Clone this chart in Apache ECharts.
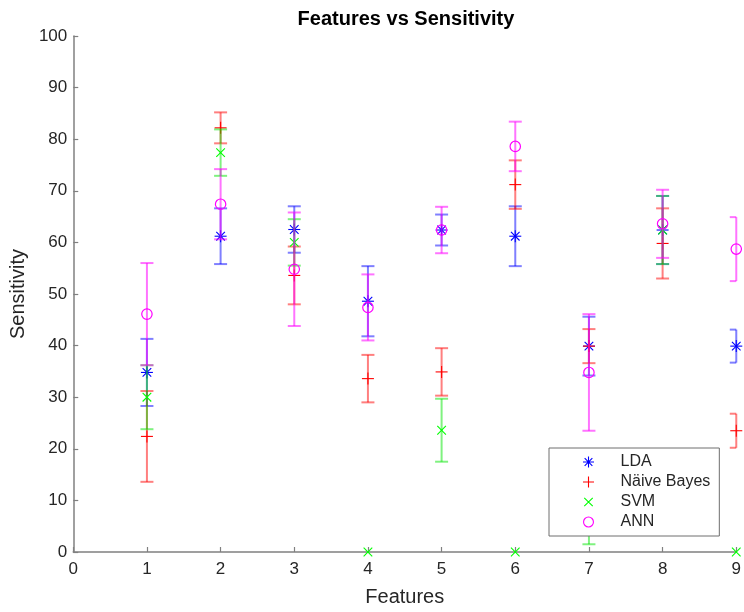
<!DOCTYPE html>
<html>
<head>
<meta charset="utf-8">
<script src="https://cdn.jsdelivr.net/npm/echarts@6/dist/echarts.min.js"></script>
<style>html,body{margin:0;padding:0;background:#fff}#c{width:744px;height:612px}</style>
</head>
<body>
<div id="c"></div>
<script>
var features = [1, 2, 3, 4, 5, 6, 7, 8, 9];
var xTickLabels = ['0','1','2','3','4','5','6','7','8','9'];
var yTickLabels = ['0','10','20','30','40','50','60','70','80','90','100'];

var ldaMean = [34.8, 61.2, 62.5, 48.6, 62.4, 61.2, 39.9, 62.4, 39.9];
var ldaErr  = [6.5, 5.4, 4.5, 6.8, 3.0, 5.8, 5.7, 6.6, 3.2];
var nbMean  = [22.4, 82.2, 53.6, 33.6, 34.9, 71.2, 39.9, 59.8, 23.5];
var nbErr   = [8.8, 3.0, 5.6, 4.6, 4.6, 4.7, 3.3, 6.8, 3.3];
var svmMean = [30.0, 77.4, 60.0, 0, 23.6, 0, 10.0, 62.4, 0];
var svmErr  = [6.2, 4.5, 4.5, 0, 6.1, 0, 8.5, 6.6, 0];
var annMean = [46.1, 67.4, 54.8, 47.4, 62.4, 78.6, 34.8, 63.6, 58.7];
var annErr  = [9.9, 6.8, 11.0, 6.4, 4.5, 4.8, 11.3, 6.6, 6.2];

var FONT = 'Liberation Sans, Arial, Helvetica, sans-serif';

function rows(mean, err) {
  return features.map(function (f, i) { return [f, mean[i], err[i]]; });
}

function markerShapes(kind, cx, cy, color) {
  var st = { stroke: color, lineWidth: 1.1, fill: null };
  function L(x1, y1, x2, y2) { return { type: 'line', shape: { x1: x1, y1: y1, x2: x2, y2: y2 }, style: st }; }
  var s = 6, d = 4.3;
  if (kind === 'plus') return [L(cx - s, cy, cx + s, cy), L(cx, cy - s, cx, cy + s)];
  if (kind === 'cross') return [L(cx - d, cy - d, cx + d, cy + d), L(cx - d, cy + d, cx + d, cy - d)];
  if (kind === 'star') return [L(cx - s, cy, cx + s, cy), L(cx, cy - s, cx, cy + s),
                               L(cx - d, cy - d, cx + d, cy + d), L(cx - d, cy + d, cx + d, cy - d)];
  return [{ type: 'circle', shape: { cx: cx, cy: cy, r: 5.2 }, style: { stroke: color, lineWidth: 1.2, fill: 'none' } }];
}

function makeRender(kind, color, barColor) {
  return function (params, api) {
    var x = api.value(0), m = api.value(1), e = api.value(2);
    var p = api.coord([x, m]);
    var cs = params.coordSys;
    var right = cs.x + cs.width;
    var children = [];
    if (e > 0) {
      var lo = api.coord([x, m - e]), hi = api.coord([x, m + e]);
      var hw = 6.5;
      var capR = Math.min(p[0] + hw, right);
      var bs = { stroke: barColor, lineWidth: 2 };
      children.push({ type: 'line', shape: { x1: p[0], y1: lo[1], x2: p[0], y2: hi[1] }, style: bs });
      children.push({ type: 'line', shape: { x1: p[0] - hw, y1: lo[1], x2: capR, y2: lo[1] }, style: bs });
      children.push({ type: 'line', shape: { x1: p[0] - hw, y1: hi[1], x2: capR, y2: hi[1] }, style: bs });
    }
    children = children.concat(markerShapes(kind, p[0], p[1], color));
    return { type: 'group', children: children };
  };
}

var plusPath = 'M45 0h10v45h45v10h-45v45h-10v-45h-45v-10h45z';
var crossPath = 'M8 15L15 8L92 85L85 92Z M85 8L92 15L15 92L8 85Z M0 0M100 100';
var starPath = plusPath + ' M11.5 18.5L18.5 11.5L88.5 81.5L81.5 88.5Z M81.5 11.5L88.5 18.5L18.5 88.5L11.5 81.5Z';
var ringPath = 'M50 0A50 50 0 1 1 50 100A50 50 0 1 1 50 0Z M50 10A40 40 0 1 0 50 90A40 40 0 1 0 50 10Z';

var methods = [
  { name: 'LDA', kind: 'star', color: '#0000ff', bar: 'rgba(0,0,255,0.5)', data: rows(ldaMean, ldaErr), icon: starPath },
  { name: 'Näive Bayes', kind: 'plus', color: '#ff0000', bar: 'rgba(255,0,0,0.5)', data: rows(nbMean, nbErr), icon: plusPath },
  { name: 'SVM', kind: 'cross', color: '#00ff00', bar: 'rgba(0,230,0,0.5)', data: rows(svmMean, svmErr), icon: crossPath },
  { name: 'ANN', kind: 'circle', color: '#ff00ff', bar: 'rgba(255,0,255,0.55)', data: rows(annMean, annErr), icon: ringPath }
];

var chart = echarts.init(document.getElementById('c'), null, { renderer: 'canvas' });
chart.setOption({
  animation: false,
  backgroundColor: '#ffffff',
  title: {
    text: 'Features vs Sensitivity',
    left: 406, top: 9, padding: 0, textAlign: 'center',
    textStyle: { fontFamily: FONT, fontSize: 20, fontWeight: 'bold', color: '#000' }
  },
  grid: { left: 73, right: 7, top: 36, bottom: 59, containLabel: false },
  xAxis: {
    type: 'value', min: 0, max: 9, interval: 1,
    name: 'Features', nameLocation: 'middle', nameGap: 35,
    nameTextStyle: { fontFamily: FONT, fontSize: 20, color: '#262626' },
    axisLine: { lineStyle: { color: '#808080', width: 1.5 } },
    axisTick: { inside: true, length: 5, lineStyle: { color: '#808080', width: 1.2 } },
    axisLabel: { margin: 9, fontFamily: FONT, fontSize: 17, color: '#262626',
      formatter: function (v) { return xTickLabels[Math.round(v)]; } },
    splitLine: { show: false }
  },
  yAxis: {
    type: 'value', min: 0, max: 100, interval: 10,
    name: 'Sensitivity', nameLocation: 'middle', nameGap: 41,
    nameTextStyle: { fontFamily: FONT, fontSize: 20, color: '#262626' },
    axisLine: { show: true, lineStyle: { color: '#808080', width: 1.5 } },
    axisTick: { show: true, inside: true, length: 5, lineStyle: { color: '#808080', width: 1.2 } },
    axisLabel: { margin: 6, fontFamily: FONT, fontSize: 17, color: '#262626',
      formatter: function (v) { return yTickLabels[Math.round(v / 10)]; } },
    splitLine: { show: false }
  },
  legend: {
    orient: 'vertical', left: 549, top: 448,
    padding: [6, 9, 6, 34],
    itemWidth: 54, itemHeight: 11, itemGap: 4,
    backgroundColor: '#ffffff', borderColor: '#6e6e6e', borderWidth: 1, borderRadius: 0,
    textStyle: { fontFamily: FONT, fontSize: 16, color: '#262626' },
    data: methods.map(function (m) { return { name: m.name, icon: 'path://' + m.icon }; })
  },
  series: methods.map(function (m) {
    return {
      type: 'custom', name: m.name,
      itemStyle: { color: m.color },
      encode: { x: 0, y: 1 },
      clip: false,
      renderItem: makeRender(m.kind, m.color, m.bar),
      data: m.data
    };
  })
});
</script>
</body>
</html>
